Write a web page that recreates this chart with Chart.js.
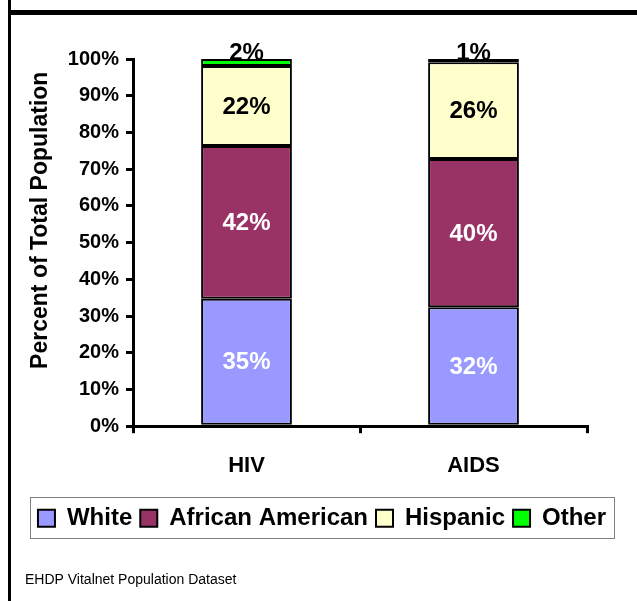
<!DOCTYPE html>
<html>
<head>
<meta charset="utf-8">
<script src="https://cdn.jsdelivr.net/npm/chart.js@4"></script>
<style>
  body { margin: 0; background: #fff; }
  canvas { display: block; }
</style>
</head>
<body>
<canvas id="chart_race" width="637" height="601"></canvas>
<script>
var categories = ['HIV', 'AIDS'];
var white = [34.7, 32.4];
var africanAmerican = [41.6, 40.4];
var hispanic = [21.8, 26.3];
var other = [1.9, 0.9];
var yTicks = [0, 10, 20, 30, 40, 50, 60, 70, 80, 90, 100];

var seriesColors = ['#9999FF', '#993366', '#FFFFCC', '#00FF00'];

var makeSet = function(label, data, i) {
    return {
        label: label,
        data: data,
        backgroundColor: seriesColors[i],
        borderColor: '#000',
        borderWidth: 2,
        borderSkipped: false,
        categoryPercentage: 1,
        barPercentage: 0.4
    };
};

var barChartData = {
    labels: categories,
    datasets: [
        makeSet('White', white, 0),
        makeSet('African American', africanAmerican, 1),
        makeSet('Hispanic', hispanic, 2),
        makeSet('Other', other, 3)
    ]
};

// page frame + gray box round the legend
var framePlugin = {
    id: 'frame',
    beforeDraw: function(chart) {
        var ctx = chart.ctx;
        ctx.save();
        ctx.fillStyle = '#fff';
        ctx.fillRect(0, 0, chart.width, chart.height);
        ctx.fillStyle = '#000';
        ctx.fillRect(8, 0, 3, chart.height);
        ctx.fillRect(8, 10, chart.width - 8, 5);
        ctx.restore();
    },
    afterDraw: function(chart) {
        var boxes = chart.legend.legendHitBoxes;
        if (!boxes || !boxes.length) return;
        var l = Infinity, r = -Infinity, cy = boxes[0].top + boxes[0].height / 2;
        boxes.forEach(function(b) {
            l = Math.min(l, b.left);
            r = Math.max(r, b.left + b.width);
        });
        var ctx = chart.ctx;
        ctx.save();
        ctx.strokeStyle = '#808080';
        ctx.lineWidth = 1;
        ctx.strokeRect(Math.round(l - 8) + 0.5, Math.round(cy - 21) + 0.5, Math.round(r - l + 16), 41);
        ctx.restore();
    }
};

// percent labels on the bars
var labelPlugin = {
    id: 'barLabels',
    afterDatasetsDraw: function(chart) {
        var ctx = chart.ctx;
        ctx.save();
        ctx.font = 'bold 24px Arial';
        ctx.textAlign = 'center';
        chart.data.datasets.forEach(function(ds, di) {
            var meta = chart.getDatasetMeta(di);
            meta.data.forEach(function(bar, i) {
                var p = bar.getProps(['x', 'y', 'base'], true);
                var txt = Math.round(ds.data[i]) + '%';
                if (di === 3) {
                    ctx.fillStyle = '#000';
                    ctx.textBaseline = 'alphabetic';
                    ctx.fillText(txt, p.x, p.y + 1);
                } else {
                    ctx.fillStyle = di === 2 ? '#000' : '#fff';
                    ctx.textBaseline = 'middle';
                    ctx.fillText(txt, p.x, (p.y + p.base) / 2 + 1);
                }
            });
        });
        ctx.restore();
    }
};

window.onload = function() {
    var ctx = document.getElementById('chart_race');
    window.myBar = new Chart(ctx, {
        type: 'bar',
        data: barChartData,
        plugins: [framePlugin, labelPlugin],
        options: {
            responsive: false,
            animation: false,
            layout: {
                padding: { left: 25, right: 18, top: 59, bottom: 12 }
            },
            scales: {
                x: {
                    stacked: true,
                    border: { color: '#000', width: 3 },
                    grid: { drawOnChartArea: false, color: '#000', lineWidth: 3, tickLength: 7 },
                    ticks: { color: '#000', padding: 20, font: { family: 'Arial', size: 22, weight: 'bold' } },
                    afterFit: function(s) {
                        s.height = 72;
                    }
                },
                y: {
                    stacked: true,
                    min: 0,
                    max: 100,
                    border: { color: '#000', width: 3 },
                    grid: { drawOnChartArea: false, color: '#000', lineWidth: 3, tickLength: 7 },
                    afterBuildTicks: function(s) {
                        s.ticks = yTicks.map(function(v) { return { value: v }; });
                    },
                    ticks: {
                        color: '#000',
                        padding: 7,
                        font: { family: 'Arial', size: 20, weight: 'bold' },
                        callback: function(v) { return v + '%'; }
                    },
                    title: {
                        display: true,
                        // leading spaces nudge the title up a little, as in the original
                        text: '       Percent of Total Population',
                        color: '#000',
                        padding: { top: 2, bottom: 0 },
                        font: { family: 'Arial', size: 23, weight: 'bold' }
                    },
                    afterFit: function(s) {
                        s.width = 133 - 25;
                    }
                },
                // empty strip on the right, keeps the plot narrower than the legend
                spacer: {
                    type: 'linear',
                    position: 'right',
                    grid: { display: false },
                    border: { display: false },
                    ticks: { display: false },
                    afterFit: function(s) {
                        s.width = 32;
                    }
                }
            },
            plugins: {
                tooltip: { enabled: false },
                legend: {
                    position: 'bottom',
                    labels: {
                        color: '#000',
                        boxWidth: 17,
                        boxHeight: 17,
                        padding: 8,
                        font: { family: 'Arial', size: 24, weight: 'bold' }
                    }
                },
                subtitle: {
                    display: true,
                    position: 'bottom',
                    align: 'start',
                    text: 'EHDP Vitalnet Population Dataset',
                    color: '#000',
                    padding: { top: 32, bottom: 0 },
                    font: { family: 'Arial', size: 14, weight: 'normal' }
                }
            }
        }
    });
};
</script>
</body>
</html>
